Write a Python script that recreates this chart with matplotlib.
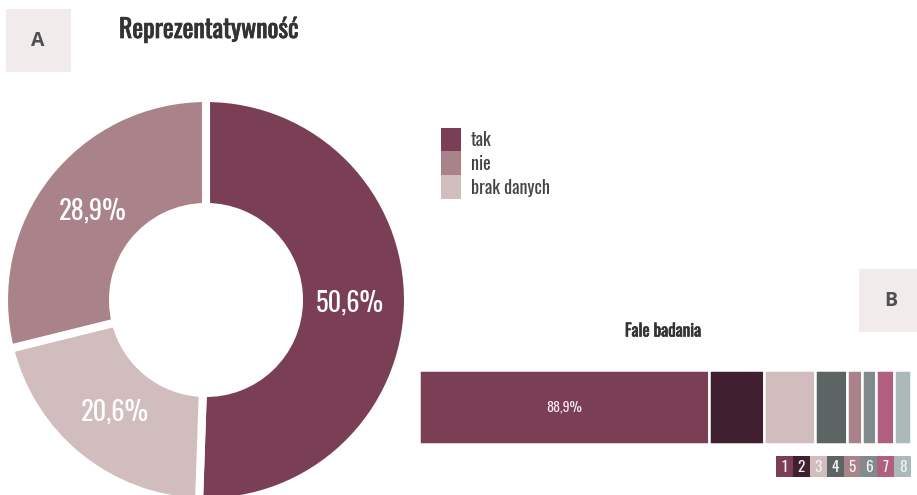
import matplotlib
matplotlib.use("Agg")
import numpy as np
import matplotlib.pyplot as plt
import matplotlib.patheffects as pe
from matplotlib.patches import Rectangle

# --- data ---
rep_labels = ["tak", "nie", "brak danych"]
rep_values = [50.6, 28.9, 20.6]
rep_colors = ["#7a3f55", "#a98389", "#d1bcbe"]

wave_names = ["1", "2", "3", "4", "5", "6", "7", "8"]
wave_values = [88.9, 16.8, 15.5, 10.0, 4.4, 4.3, 5.6, 5.2]
wave_colors = ["#7a3f55", "#401f30", "#d1bcbe", "#5c6464",
               "#a98389", "#818a8c", "#b05f80", "#adb9b9"]

NARROW = ["Oswald", "DejaVu Sans"]
W, H = 917, 495


def box(x0, y0, x1, y1):
    """pixel box (top-left origin) -> figure fraction rect"""
    return [x0 / W, 1 - y1 / H, (x1 - x0) / W, (y1 - y0) / H]


def fig_rect(x0, y0, x1, y1, color):
    fig.patches.append(Rectangle((x0 / W, 1 - y1 / H), (x1 - x0) / W, (y1 - y0) / H,
                                 transform=fig.transFigure, color=color, lw=0, zorder=0))


def heavy(color, lw):
    return [pe.withStroke(linewidth=lw, foreground=color)]


fig = plt.figure(figsize=(W / 100, H / 100), dpi=100)

# panel badges
for (x0, y0, x1, y1), tx, letter in [((6, 9, 71, 72), 38, "A"), ((859, 269, 920, 332), 891, "B")]:
    fig_rect(x0, y0, x1, y1, "#f1ebeb")
    fig.text(tx / W, 1 - (y0 + y1) / 2 / H, letter,
             family="Open Sans", weight="bold", fontsize=14, color="#505050",
             ha="center", va="center")

fig.text(119 / W, 1 - 30 / H, "Reprezentatywność", family=NARROW, weight="bold",
         fontsize=18.5, color="#333333", ha="left", va="center",
         path_effects=heavy("#333333", 0.55))

# --- donut ---
cx, cy, half = 206, 300, 250
ax = fig.add_axes(box(cx - half, cy - half, cx + half, cy + half))
order = [0, 2, 1]  # clockwise from the top: tak, brak danych, nie
vals = [rep_values[i] for i in order]
cols = [rep_colors[i] for i in order]
wedges, _ = ax.pie(vals, colors=cols, startangle=90, counterclock=False,
                   radius=1.01, wedgeprops=dict(width=0.545, edgecolor="white", linewidth=5.8))
ax.set_xlim(-1.25, 1.25)
ax.set_ylim(-1.25, 1.25)
ax.set_aspect("equal")

for w, v in zip(wedges, vals):
    mid = np.deg2rad((w.theta1 + w.theta2) / 2)
    r = 0.72
    ax.text(r * np.cos(mid), r * np.sin(mid), f"{v:.1f}%".replace(".", ","),
            family=NARROW, fontsize=19, color="white", ha="center", va="center")

# legend: stacked colour squares with labels
row_h = 23.8
for i, (lab, col) in enumerate(zip(rep_labels, rep_colors)):
    y0 = 127.6 + i * row_h
    fig_rect(441, y0, 461, y0 + row_h, col)
    fig.text(471 / W, 1 - (y0 + row_h / 2 + 0.5) / H, lab, family=NARROW, fontsize=13,
             color="#444444", ha="left", va="center")

# --- waves bar ---
fig.text(663 / W, 1 - 331 / H, "Fale badania", family=NARROW, weight="bold",
         fontsize=12.3, color="#333333", ha="center", va="center",
         path_effects=heavy("#333333", 0.45))

bx = fig.add_axes(box(419, 370, 911, 444))
left = 0
for v, c in zip(wave_values, wave_colors):
    bx.barh(0, v, left=left, height=1, color=c, edgecolor="white", linewidth=1.8)
    left += v
bx.set_xlim(0, sum(wave_values))
bx.set_ylim(-0.5, 0.5)
bx.axis("off")
bx.text(wave_values[0] / 2, 0, f"{wave_values[0]:.1f}%".replace(".", ","),
        family=NARROW, fontsize=10, color="#f3e6ec", ha="center", va="center")

# legend strip for the waves
lx = fig.add_axes(box(776, 456, 911, 477))
lx.bar(range(len(wave_names)), 1, width=1, color=wave_colors)
for i, n in enumerate(wave_names):
    lx.text(i, 0.47, n, family=NARROW, fontsize=11, color="#f2f2f2", ha="center", va="center")
lx.set_xlim(-0.5, len(wave_names) - 0.5)
lx.set_ylim(0, 1)
lx.axis("off")

fig.savefig("out.png", dpi=100)
